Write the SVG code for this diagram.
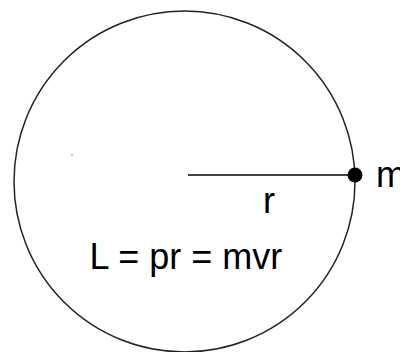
<svg xmlns="http://www.w3.org/2000/svg" width="400" height="352" viewBox="0 0 400 352">
<style>
text{font-family:"Liberation Sans",Arial,sans-serif;font-size:36px;fill:#000}
</style>
<rect width="400" height="352" fill="#fff"/>
<g id="orbit"><circle cx="184.5" cy="181.5" r="170.5" fill="none" stroke="#222" stroke-width="1.5"/></g>
<g id="connectors"><line x1="188" y1="175" x2="355" y2="175" stroke="#000" stroke-width="1.5"/></g>
<g id="mass"><circle cx="355" cy="175" r="7.5" fill="#000"/><text x="376" y="187">m</text></g>
<g id="radius-label"><text x="263" y="213">r</text></g>
<g id="formula"><text x="89.5" y="269">L = pr = mvr</text></g>
<circle cx="72" cy="155" r="0.8" fill="#777"/>
</svg>
